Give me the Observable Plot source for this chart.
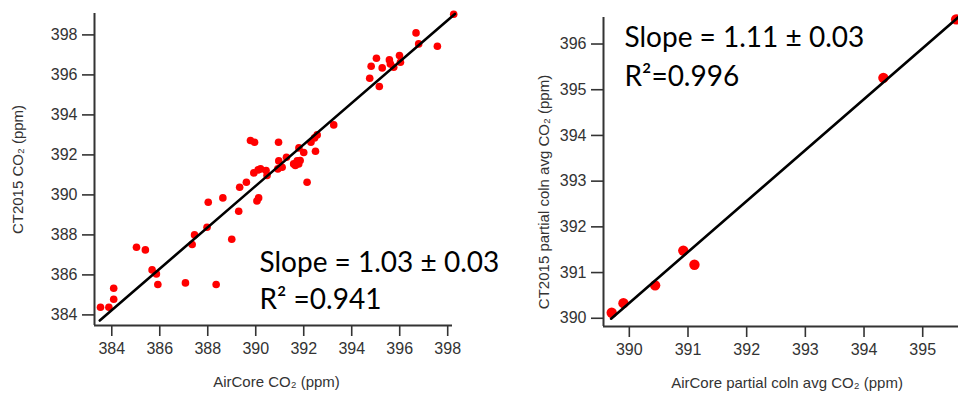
<!DOCTYPE html>
<html>
<head>
<meta charset="utf-8">
<script src="https://cdn.jsdelivr.net/npm/d3@7"></script>
<script src="https://cdn.jsdelivr.net/npm/@observablehq/plot@0.6"></script>
<style>
  html, body { margin: 0; padding: 0; background: #fff; }
  #wrap { position: relative; width: 958px; height: 394px; overflow: hidden; background: #fff; }
  #left { position: absolute; left: 0; top: 0; }
  #right { position: absolute; left: 520px; top: 0; }
</style>
</head>
<body>
<div id="wrap"><div id="left"></div><div id="right"></div></div>
<script>
// ---- Left panel data: AirCore CO2 vs CT2015 CO2 (ppm)
const leftX = [383.53, 383.88, 384.08, 384.08, 385.03, 385.40, 385.68, 385.86, 385.92, 387.07,
  388.35, 387.35, 387.45, 387.97, 388.02, 388.63, 389.0, 389.29, 389.33, 389.61,
  390.05, 390.12, 389.78, 389.95, 390.95, 389.92, 390.1, 390.2, 390.43, 390.47,
  390.92, 390.96, 391.1, 391.28, 391.58, 391.65, 391.7, 391.73, 391.79, 391.85,
  391.8, 392.0, 392.14, 392.49, 392.3, 392.45, 392.56, 393.25, 394.75, 394.81,
  395.03, 395.15, 395.27, 395.57, 395.61, 395.75, 395.99, 396.03, 396.68, 396.79,
  397.57, 398.25];
const leftY = [384.38, 384.38, 384.78, 385.33, 387.38, 387.25, 386.25, 386.05, 385.52, 385.60,
  385.52, 387.52, 388.0, 388.38, 389.63, 389.85, 387.78, 389.18, 390.38, 390.63,
  389.7, 389.85, 392.72, 392.63, 392.63, 391.1, 391.25, 391.3, 391.22, 390.97,
  391.3, 391.7, 391.38, 391.88, 391.55, 391.47, 391.6, 391.7, 391.55, 391.72,
  392.35, 392.12, 390.63, 392.18, 392.63, 392.85, 393.0, 393.5, 395.83, 396.43,
  396.83, 395.42, 396.35, 396.75, 396.55, 396.38, 396.97, 396.63, 398.1, 397.55,
  397.43, 399.03];
const leftFitX = [383.5, 398.3];
const leftFitY = [383.72, 399.05];
const leftXDomain = [383.28, 398.2];
const leftYDomain = [383.47, 399.07];
const leftXTicks = [384, 386, 388, 390, 392, 394, 396, 398];
const leftYTicks = [384, 386, 388, 390, 392, 394, 396, 398];
const leftXLabel = "AirCore CO₂ (ppm)";
const leftYLabel = "CT2015 CO₂ (ppm)";
const leftNotes = ["Slope = 1.03 ± 0.03", "R² =0.941"];

// ---- Right panel data: partial column averages
const rightX = [389.70, 389.90, 390.44, 390.92, 391.11, 394.33, 395.57];
const rightY = [390.12, 390.33, 390.72, 391.48, 391.17, 395.26, 396.54];
const rightFitX = [389.69, 395.62];
const rightFitY = [389.99, 396.6];
const rightXDomain = [389.56, 395.61];
const rightYDomain = [389.82, 396.58];
const rightXTicks = [390, 391, 392, 393, 394, 395];
const rightYTicks = [390, 391, 392, 393, 394, 395, 396];
const rightXLabel = "AirCore partial coln avg CO₂ (ppm)";
const rightYLabel = "CT2015 partial coln avg CO₂ (ppm)";
const rightNotes = ["Slope = 1.11 ± 0.03", "R²=0.996"];

const axisColor = "#333";
const tickFont = "Liberation Sans, Arial, sans-serif";
const noteFont = "Lato, 'Open Sans', sans-serif";
const fmt = d => String(d);

function panel(o) {
  const pts = o.xs.map((x, i) => ({x, y: o.ys[i]}));
  const fit = o.fx.map((x, i) => ({x, y: o.fy[i]}));
  return Plot.plot({
    width: o.width, height: 394,
    marginLeft: o.ml, marginRight: o.mr, marginTop: o.mt, marginBottom: o.mb,
    style: {fontFamily: tickFont, fontSize: "16px", color: axisColor, background: "transparent", overflow: "visible"},
    x: {domain: o.xd},
    y: {domain: o.yd},
    marks: [
      Plot.axisX({ticks: o.xt, tickFormat: fmt, tickSize: 11, tickPadding: 6, label: null, stroke: axisColor, strokeWidth: 1.6, fill: axisColor, fontSize: 16}),
      Plot.axisY({ticks: o.yt, tickFormat: fmt, tickSize: 12, tickPadding: 5, label: null, stroke: axisColor, strokeWidth: 1.6, fill: axisColor, fontSize: 16}),
      Plot.ruleX([o.xd[0]], {stroke: axisColor, strokeWidth: 2}),
      Plot.ruleY([o.yd[0]], {stroke: axisColor, strokeWidth: 2}),
      Plot.dot(pts, {x: "x", y: "y", r: o.r, fill: "#ff0000", stroke: "none"}),
      Plot.line(fit, {x: "x", y: "y", stroke: "black", strokeWidth: 2.6}),
      Plot.text([o.xl], {frameAnchor: "bottom", dx: o.xlDx, dy: 57, textAnchor: "middle", lineAnchor: "middle", fontSize: 15, fill: axisColor, fontFamily: tickFont}),
      Plot.text([o.yl], {frameAnchor: "left", rotate: -90, dx: o.ylDx, dy: o.ylDy, textAnchor: "middle", lineAnchor: "middle", fontSize: 15, fill: axisColor, fontFamily: tickFont}),
      Plot.text([o.notes[0]], {frameAnchor: "top-left", dx: o.nDx, dy: o.n1, textAnchor: "start", lineAnchor: "bottom", fontSize: 28, fill: "black", fontFamily: noteFont}),
      Plot.text([o.notes[1]], {frameAnchor: "top-left", dx: o.nDx, dy: o.n2, textAnchor: "start", lineAnchor: "bottom", fontSize: 28, fill: "black", fontFamily: noteFont})
    ]
  });
}

document.getElementById("left").appendChild(panel({
  width: 520, ml: 94, mr: 68, mt: 13, mb: 69,
  xs: leftX, ys: leftY, fx: leftFitX, fy: leftFitY,
  xd: leftXDomain, yd: leftYDomain, xt: leftXTicks, yt: leftYTicks,
  xl: leftXLabel, yl: leftYLabel, xlDx: 3, ylDx: -76, ylDy: 0,
  r: 3.8, notes: leftNotes, nDx: 165, n1: 258, n2: 295
}));
document.getElementById("right").appendChild(panel({
  width: 438, ml: 83, mr: 0, mt: 17, mb: 68,
  xs: rightX, ys: rightY, fx: rightFitX, fy: rightFitY,
  xd: rightXDomain, yd: rightYDomain, xt: rightXTicks, yt: rightYTicks,
  xl: rightXLabel, yl: rightYLabel, xlDx: 6, ylDx: -59, ylDy: 20,
  r: 5.2, notes: rightNotes, nDx: 21, n1: 29, n2: 68
}));
</script>
</body>
</html>
